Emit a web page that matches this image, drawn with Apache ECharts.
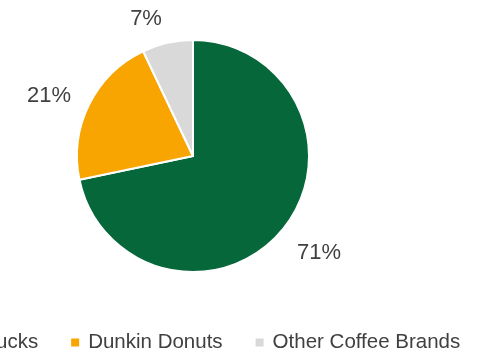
<!DOCTYPE html>
<html lang="en">
<head>
    <meta charset="UTF-8">
    <title>Coffee market share</title>
    <script src="https://cdn.jsdelivr.net/npm/echarts@6.0.0/dist/echarts.min.js"></script>
    <style>
        body { margin: 0; background: #fff; }
        #chart { width: 486px; height: 356px; }
    </style>
</head>
<body>
<div id="chart"></div>
<script>
    const brands = ['Starbucks', 'Dunkin Donuts', 'Other Coffee Brands'];
    const shares = [71, 21, 7];
    const colors = ['#05673a', '#f8a502', '#d9d9d9'];
    // per slice: how far the label sits from the rim, and a small nudge down
    const labelLens = [18, 20, 25];
    const labelDy = [12, 0, 0];

    const chart = echarts.init(document.getElementById('chart'));

    const data = brands.map((name, i) => ({
        name: name,
        value: shares[i],
        itemStyle: { color: colors[i] },
        labelLine: { length: labelLens[i] }
    }));

    chart.setOption({
        animation: false,
        textStyle: { fontFamily: '"Liberation Sans", Arial, sans-serif' },
        legend: {
            data: brands,
            orient: 'horizontal',
            left: -77,
            top: 327,
            itemWidth: 10,
            itemHeight: 10,
            itemGap: 31,
            icon: 'rect',
            textStyle: { fontSize: 20.5, color: '#404040', padding: [0, 0, 0, 3] }
        },
        series: [{
            type: 'pie',
            center: [193, 156],
            radius: 116,
            startAngle: 90,
            avoidLabelOverlap: false,
            itemStyle: { borderColor: '#fff', borderWidth: 2 },
            label: {
                show: true,
                position: 'outside',
                formatter: '{c}%',
                fontSize: 22,
                color: '#404040',
                distanceToLabelLine: 0
            },
            labelLine: { show: false, length2: 0 },
            labelLayout: function (params) {
                return { dy: labelDy[params.dataIndex] };
            },
            emphasis: { disabled: true },
            data: data
        }]
    });
</script>
</body>
</html>
